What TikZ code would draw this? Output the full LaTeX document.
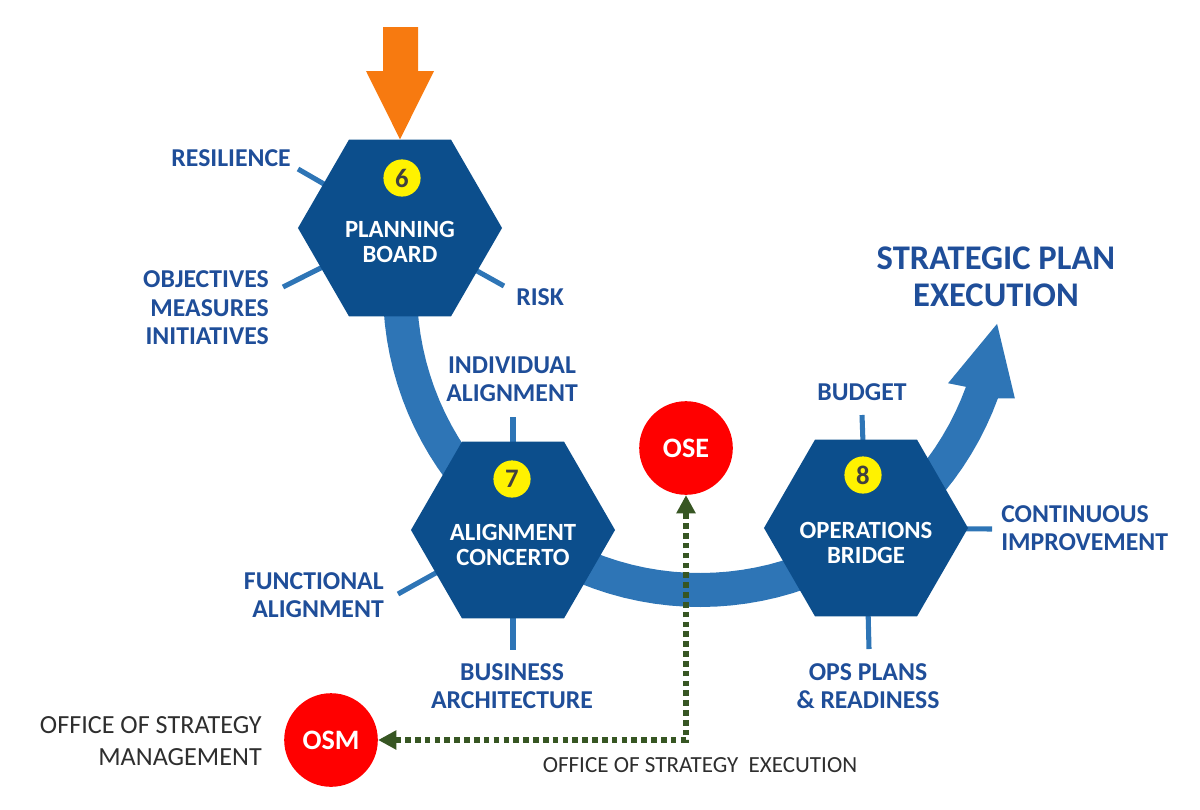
\documentclass[tikz,border=0pt]{standalone}
\usepackage{fontspec}
\setmainfont{Carlito}
\usetikzlibrary{shapes.geometric,arrows.meta,calc,backgrounds}
\definecolor{hexblue}{HTML}{0C4E8C}
\definecolor{bandblue}{HTML}{2E75B6}
\definecolor{lblblue}{HTML}{1F4E99}
\definecolor{dotgreen}{HTML}{375623}
\definecolor{inorange}{HTML}{F77A10}
\definecolor{numgray}{HTML}{404040}
\tikzset{
  hexa/.style={regular polygon, regular polygon sides=6, fill=hexblue,
    minimum size=5.1cm, inner sep=0pt},
  hextxt/.style={text=white, font=\bfseries\fontsize{17.6}{18}\selectfont,
    align=center, inner sep=0pt},
  num/.style={circle, fill=yellow, minimum size=0.93cm, inner sep=0pt,
    text=numgray, font=\bfseries\fontsize{19}{19}\selectfont},
  lbl/.style={text=lblblue, font=\bfseries\fontsize{18.3}{20.2}\selectfont,
    align=center, inner sep=0pt},
  spoke/.style={draw=bandblue, line width=3.6pt},
  office/.style={circle, fill=red, minimum size=2.34cm, inner sep=0pt,
    text=white, font=\bfseries\fontsize{20}{20}\selectfont},
  plaintxt/.style={text=black!82, inner sep=0pt},
  dotline/.style={draw=dotgreen, line width=4.3pt, dash pattern=on 4pt off 3pt,
    {Triangle[length=13pt,width=13pt]}-{Triangle[length=13pt,width=13pt]}}
}
\begin{document}
\begin{tikzpicture}[x=0.025cm,y=-0.025cm]
\useasboundingbox (0,0) rectangle (1200,809);

\node[hexa] (pb) at (400,228) {};
\node[hexa] (ac) at (513,530) {};
\node[hexa] (ob) at (866,528) {};

\node[num] (n6) at ($(pb)+(2,-50)$) {6};
\node[num] (n7) at ($(ac)+(-1,-51)$) {7};
\node[num] (n8) at ($(ob)+(-3,-53)$) {8};
\node[hextxt] (pbt) at ($(pb)+(0,14)$) {PLANNING\\BOARD};
\node[hextxt] (act) at ($(ac)+(0,15)$) {ALIGNMENT\\CONCERTO};
\node[hextxt] (obt) at ($(ob)+(0,15)$) {OPERATIONS\\BRIDGE};

\coordinate (s-res) at (298,169);
\coordinate (s-obj) at (283,287);
\coordinate (s-risk) at (504,286);
\coordinate (s-ind) at (513,417);
\coordinate (s-fun) at (398,594);
\coordinate (s-bus) at (513,650);
\coordinate (s-bud) at (862,415);
\coordinate (s-ci) at (992,529);
\coordinate (s-ops) at (869,649);

\begin{scope}[on background layer]
\fill[bandblue] plot[domain=185:20,samples=60]
  ({700+317*cos(\x)},{290+317*sin(\x)})
  -- ({700+333*cos(19)},{290+333*sin(19)})
  -- ({700+299*cos(6.5)},{290+299*sin(6.5)})
  -- ({700+265*cos(20.6)},{290+265*sin(20.6)})
  -- plot[domain=20:185,samples=60]
  ({700+283*cos(\x)},{290+283*sin(\x)}) -- cycle;
\foreach \s in {res,obj,risk}
  \draw[spoke] (pb.center) -- (s-\s);
\foreach \s in {ind,fun,bus}
  \draw[spoke] (ac.center) -- (s-\s);
\foreach \s in {bud,ci,ops}
  \draw[spoke] (ob.center) -- (s-\s);
\end{scope}

\node[lbl,anchor=east] (res) at (291,158) {RESILIENCE};
\node[lbl,anchor=east,align=right] (obj) at (269,308)
  {OBJECTIVES\\MEASURES\\INITIATIVES};
\node[lbl,anchor=west] (risk) at (516,297) {RISK};
\node[lbl] (ind) at (512,379) {INDIVIDUAL\\ALIGNMENT};
\node[lbl,anchor=east,align=right] (fun) at (384,595)
  {FUNCTIONAL\\ALIGNMENT};
\node[lbl] (bus) at (512,686) {BUSINESS\\ARCHITECTURE};
\node[lbl] (bud) at (862,392) {BUDGET};
\node[lbl,anchor=west,align=left] (ci) at (1001,528)
  {CONTINUOUS\\IMPROVEMENT};
\node[lbl] (ops) at (868,686) {OPS PLANS\\\& READINESS};
\node[lbl,font=\bfseries\fontsize{24.6}{26.5}\selectfont] (spe) at (996,277)
  {STRATEGIC PLAN\\EXECUTION};

\node[office] (ose) at (686,448) {OSE};
\node[office] (osm) at (331,740) {OSM};
\node[plaintxt,anchor=east,align=right,font=\fontsize{18.6}{22.8}\selectfont]
  (osmt) at (262,741) {OFFICE OF STRATEGY\\MANAGEMENT};
\node[plaintxt,font=\fontsize{16.4}{18}\selectfont] (oset) at (700,765)
  {OFFICE OF STRATEGY\ \ EXECUTION};
\draw[dotline] (osm) -| (ose);

\fill[inorange] (383,27) -- (418,27) -- (418,71) -- (434,71) -- (pb.north)
  -- (366,71) -- (383,71) -- cycle;
\end{tikzpicture}
\end{document}
